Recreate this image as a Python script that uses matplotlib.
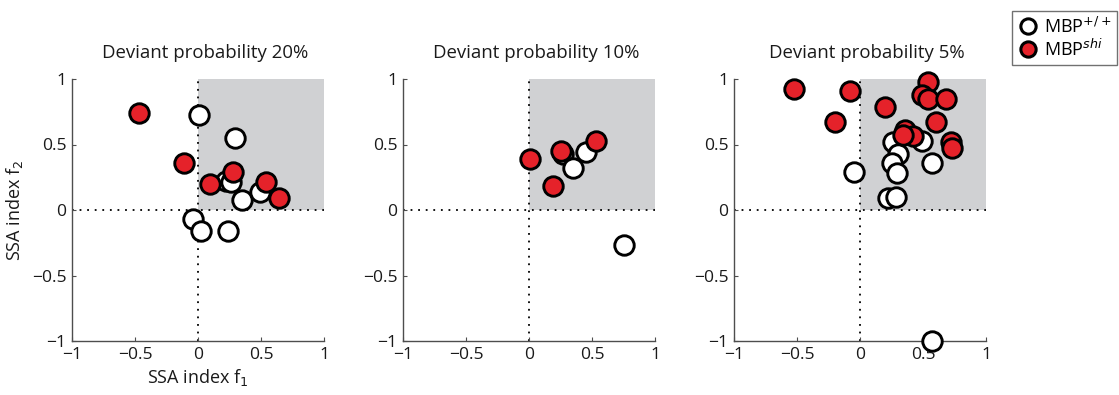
import matplotlib
matplotlib.use("Agg")
import matplotlib.pyplot as plt
from matplotlib.lines import Line2D

plt.rcParams['font.family'] = ['Open Sans', 'DejaVu Sans']

titles = ["Deviant probability 20%", "Deviant probability 10%", "Deviant probability 5%"]

# SSA index pairs (f1, f2) per deviant probability
wt_f1_20 = [0.01, 0.29, 0.22, 0.26, 0.35, 0.49, -0.04, 0.02, 0.24]
wt_f2_20 = [0.725, 0.55, 0.22, 0.21, 0.08, 0.14, -0.065, -0.16, -0.16]
shi_f1_20 = [-0.47, -0.11, 0.094, 0.28, 0.54, 0.64]
shi_f2_20 = [0.74, 0.36, 0.20, 0.29, 0.215, 0.09]

wt_f1_10 = [0.27, 0.35, 0.45, 0.75]
wt_f2_10 = [0.425, 0.32, 0.44, -0.27]
shi_f1_10 = [0.008, 0.25, 0.53, 0.19]
shi_f2_10 = [0.39, 0.45, 0.53, 0.18]

wt_f1_5 = [-0.05, 0.26, 0.49, 0.57, 0.30, 0.25, 0.29, 0.22, 0.285, 0.575]
wt_f2_5 = [0.29, 0.52, 0.53, 0.36, 0.425, 0.355, 0.28, 0.09, 0.10, -1.0]
shi_f1_5 = [-0.52, -0.08, -0.20, 0.20, 0.54, 0.49, 0.54, 0.68, 0.60, 0.36, 0.42, 0.34, 0.72, 0.73]
shi_f2_5 = [0.92, 0.91, 0.67, 0.79, 0.98, 0.88, 0.85, 0.85, 0.67, 0.61, 0.565, 0.57, 0.52, 0.47]

wt_sets = [(wt_f1_20, wt_f2_20), (wt_f1_10, wt_f2_10), (wt_f1_5, wt_f2_5)]
shi_sets = [(shi_f1_20, shi_f2_20), (shi_f1_10, shi_f2_10), (shi_f1_5, shi_f2_5)]

ticks = [-1, -0.5, 0, 0.5, 1]
tick_labels = ["\u22121", "\u22120.5", "0", "0.5", "1"]

RED = "#E5222A"
SHADE = "#D0D1D3"
SPINE = "#4d4d4d"
TEXT = "#1a1a1a"

W, H = 1119, 395
fig = plt.figure(figsize=(W / 100, H / 100), dpi=100)

lefts = [72, 403, 734]
ax_w, ax_top, ax_bot = 252, 79, 341

marker_kw = dict(marker="o", markersize=14, markeredgewidth=2.1,
                 markeredgecolor="black", linestyle="none", clip_on=False)

for i in range(3):
    ax = fig.add_axes([lefts[i] / W, (H - ax_bot) / H, ax_w / W, (ax_bot - ax_top) / H])
    ax.set_xlim(-1, 1)
    ax.set_ylim(-1, 1)
    ax.fill_between([0, 1], 0, 1, color=SHADE, lw=0, zorder=0)
    ax.plot([-1, 1], [0, 0], color="black", lw=1.3, ls=(0, (1, 3.2)), zorder=1)
    ax.plot([0, 0], [-1, 1], color="black", lw=1.3, ls=(0, (1, 3.2)), zorder=1)
    wx, wy = wt_sets[i]
    rx, ry = shi_sets[i]
    ax.plot(wx, wy, markerfacecolor="white", zorder=3, **marker_kw)
    ax.plot(rx, ry, markerfacecolor=RED, zorder=4, **marker_kw)
    for s in ("top", "right"):
        ax.spines[s].set_visible(False)
    for s in ("left", "bottom"):
        ax.spines[s].set_color(SPINE)
        ax.spines[s].set_linewidth(1.0)
    ax.set_xticks(ticks)
    ax.set_xticklabels(tick_labels)
    ax.set_yticks(ticks)
    ax.set_yticklabels(tick_labels)
    ax.tick_params(direction="in", length=3, width=0.8, color=SPINE,
                   labelsize=12.6, labelcolor=TEXT, pad=4)
    ax.set_title(titles[i], fontsize=13.4, color=TEXT, pad=15, x=0.528)
    if i == 0:
        ax.set_xlabel("SSA index f$_1$", fontsize=13, color=TEXT, labelpad=3)
        ax.set_ylabel("SSA index f$_2$", fontsize=13, color=TEXT, labelpad=5)

handles = [
    Line2D([], [], marker="o", markersize=11, markeredgewidth=2.2, markeredgecolor="black",
           markerfacecolor="white", linestyle="none"),
    Line2D([], [], marker="o", markersize=11, markeredgewidth=2.2, markeredgecolor="black",
           markerfacecolor=RED, linestyle="none"),
]
leg = fig.legend(handles, ["MBP$^{+/+}$", "MBP$^{\\mathit{shi}}$"],
                 loc="upper left", bbox_to_anchor=(1012 / W, 1 - 11 / H),
                 frameon=True, fancybox=False, fontsize=13, handletextpad=0.3,
                 handlelength=1.2, borderpad=0.3, labelspacing=0.1, borderaxespad=0)
leg.get_frame().set_edgecolor(SPINE)
leg.get_frame().set_linewidth(1.0)

fig.savefig("out.png", dpi=100)
